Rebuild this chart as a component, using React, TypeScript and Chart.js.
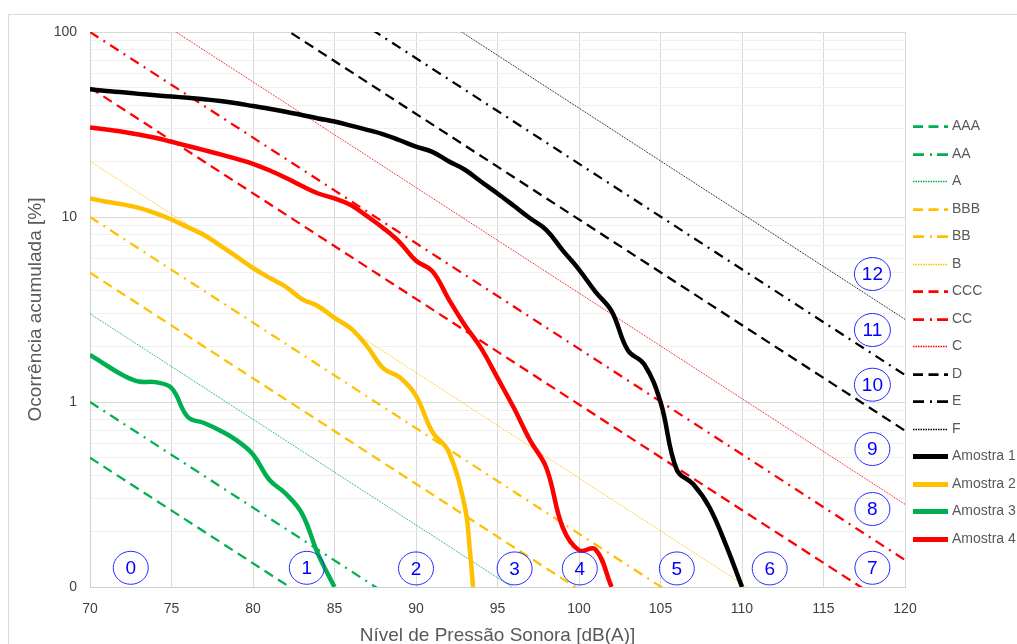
import React, { useEffect, useRef } from 'react';
import { Chart, registerables } from 'chart.js';

Chart.register(...registerables);

// ---------- data ----------
const xTickLabels = [70, 75, 80, 85, 90, 95, 100, 105, 110, 115, 120];
const yTickValues = [0.1, 1, 10, 100];
const yTickLabels = ['0', '1', '10', '100'];

// reference (class) lines: value at 70 dB and at 120 dB
const refNames = ['AAA', 'AA', 'A', 'BBB', 'BB', 'B', 'CCC', 'CC', 'C', 'D', 'E', 'F'];
const refX = [70, 120];
const refStart = [0.5, 1, 3, 5, 10, 20, 50, 100, 200, 500, 1000, 2000];
const refEnd = [0.0007, 0.0014, 0.0042, 0.007, 0.014, 0.028, 0.07, 0.14, 0.28, 0.7, 1.4, 2.8];

// samples
const amostra1X = [70, 71, 72, 73, 74, 75, 76, 77, 78, 79, 80, 81, 82, 83, 84, 85, 86, 87, 88, 89, 90, 91, 92, 93, 94, 95, 96, 97, 98, 99, 100, 101, 102, 103, 104, 105, 106, 107, 108, 109, 110];
const amostra1Y = [49, 48, 47.2, 46.3, 45.5, 44.8, 44.1, 43.3, 42.4, 41.2, 39.8, 38.5, 37.1, 35.6, 34.1, 32.8, 31.2, 29.6, 28, 26, 24, 22.5, 20, 18, 15.5, 13.4, 11.5, 9.84, 8.5, 6.6, 5.2, 3.95, 3.1, 1.9, 1.6, 1.0, 0.43, 0.36, 0.27, 0.17, 0.1];

const amostra2X = [70, 71, 72, 73, 74, 75, 76, 77, 78, 79, 80, 81, 82, 83, 84, 85, 86, 87, 88, 89, 90, 91, 92, 93, 93.3, 93.5];
const amostra2Y = [12.6, 12.1, 11.7, 11.2, 10.5, 9.7, 8.8, 8.0, 7.0, 6.1, 5.3, 4.7, 4.2, 3.6, 3.3, 2.85, 2.5, 2.0, 1.52, 1.36, 1.08, 0.69, 0.54, 0.27, 0.16, 0.1];

const amostra3X = [70, 71, 72, 73, 74, 75, 76, 77, 78, 79, 80, 81, 82, 83, 84, 85];
const amostra3Y = [1.8, 1.58, 1.4, 1.29, 1.28, 1.19, 0.83, 0.77, 0.7, 0.62, 0.52, 0.38, 0.32, 0.25, 0.15, 0.1];

const amostra4X = [70, 71, 72, 73, 74, 75, 76, 77, 78, 79, 80, 81, 82, 83, 84, 85, 86, 87, 88, 89, 90, 91, 92, 93, 94, 95, 96, 97, 98, 99, 100, 101, 102];
const amostra4Y = [30.5, 29.7, 28.9, 27.9, 26.8, 25.5, 24.2, 23, 21.8, 20.6, 19.4, 17.9, 16.3, 14.7, 13.4, 12.6, 11.6, 10.1, 8.7, 7.3, 5.8, 5.1, 3.6, 2.6, 1.95, 1.35, 0.93, 0.62, 0.44, 0.21, 0.158, 0.16, 0.1];

const sampleNames = ['Amostra 1', 'Amostra 2', 'Amostra 3', 'Amostra 4'];

// zone labels (circled numbers)
const zoneLabels = ['0', '1', '2', '3', '4', '5', '6', '7', '8', '9', '10', '11', '12'];
const zoneX = [72.5, 83.3, 90, 96.05, 100.05, 106, 111.7, 118, 118, 118, 118, 118, 118];
const zoneY = [0.127, 0.127, 0.126, 0.126, 0.126, 0.126, 0.126, 0.127, 0.264, 0.557, 1.24, 2.45, 4.92];

// ---------- styles ----------
const FONT = '"Liberation Sans", Arial, sans-serif';
const refColors = ['#00B050', '#00B050', '#00B050', '#FFC000', '#FFC000', '#FFC000', '#FF0000', '#FF0000', '#FF0000', '#000000', '#000000', '#000000'];
const refKinds = ['dash', 'dashdot', 'dot', 'dash', 'dashdot', 'dot', 'dash', 'dashdot', 'dot', 'dash', 'dashdot', 'dot'];
const dashOf: Record<string, number[]> = { dash: [10, 6], dashdot: [10, 6, 2, 6], dot: [1, 1] };
const widthOf: Record<string, number> = { dash: 2.25, dashdot: 2.25, dot: 1 };
const sampleColors = ['#000000', '#FFC000', '#00B050', '#FF0000'];

function isDecade(v: number) {
  const l = Math.log10(v);
  return Math.abs(l - Math.round(l)) < 1e-6;
}

const overlayPlugin = {
  id: 'overlay',
  afterDatasetsDraw(chart: any) {
    const { ctx, scales, chartArea } = chart;
    const xs = scales.x;
    const ys = scales.y;
    ctx.save();
    // circled zone numbers
    zoneLabels.forEach((t, i) => {
      const px = xs.getPixelForValue(zoneX[i]);
      const py = ys.getPixelForValue(zoneY[i]);
      ctx.beginPath();
      ctx.setLineDash([]);
      ctx.lineWidth = 1;
      ctx.strokeStyle = '#2a2aff';
      ctx.ellipse(px, py, t.length > 1 ? 18 : 17.5, 16.5, 0, 0, Math.PI * 2);
      ctx.stroke();
      ctx.fillStyle = '#0000FF';
      ctx.font = '19px ' + FONT;
      ctx.textAlign = 'center';
      ctx.textBaseline = 'middle';
      ctx.fillText(t, px, py + 1);
    });
    ctx.restore();

    // legend
    ctx.save();
    const lx = chartArea.right + 8;
    const ly0 = chartArea.top + 94;
    chart.data.datasets.forEach((ds: any, i: number) => {
      const yy = Math.round(ly0 + i * 27.53) + 0.5;
      ctx.beginPath();
      ctx.setLineDash(ds.legendDash || []);
      ctx.lineWidth = ds.legendWidth;
      ctx.strokeStyle = ds.borderColor;
      ctx.moveTo(lx, yy);
      ctx.lineTo(lx + 35, yy);
      ctx.stroke();
      ctx.setLineDash([]);
      ctx.fillStyle = '#595959';
      ctx.font = '14px ' + FONT;
      ctx.textAlign = 'left';
      ctx.textBaseline = 'middle';
      ctx.fillText(ds.label, lx + 39, yy);
    });
    ctx.restore();
  },
};

export default function App() {
  const ref = useRef<HTMLCanvasElement | null>(null);

  useEffect(() => {
    if (!ref.current) return;
    const datasets: any[] = [];
    refNames.forEach((name, i) => {
      const k = refKinds[i];
      datasets.push({
        label: name,
        data: [
          { x: refX[0], y: refStart[i] },
          { x: refX[1], y: refEnd[i] },
        ],
        borderColor: refColors[i],
        backgroundColor: refColors[i],
        borderWidth: widthOf[k],
        borderDash: dashOf[k],
        legendDash: k === 'dash' ? [10, 5.5] : k === 'dashdot' ? [11, 6, 2, 5] : [1.5, 1],
        legendWidth: widthOf[k] + 0.5,
        pointRadius: 0,
        tension: 0,
        order: 2,
      });
    });
    const sx = [amostra1X, amostra2X, amostra3X, amostra4X];
    const sy = [amostra1Y, amostra2Y, amostra3Y, amostra4Y];
    sampleNames.forEach((name, i) => {
      datasets.push({
        label: name,
        data: sx[i].map((x, j) => ({ x, y: sy[i][j] })),
        borderColor: sampleColors[i],
        backgroundColor: sampleColors[i],
        borderWidth: 4.5,
        legendWidth: 5,
        pointRadius: 0,
        tension: 0.4,
        order: 1,
      });
    });

    const gridValues: number[] = [];
    for (let e = -1; e < 2; e++) {
      for (let s = 1; s < 10; s++) gridValues.push(Number((s * Math.pow(10, e)).toPrecision(6)));
    }
    gridValues.push(100);

    const chart = new Chart(ref.current, {
      type: 'line',
      data: { datasets },
      plugins: [overlayPlugin],
      options: {
        animation: false,
        responsive: true,
        maintainAspectRatio: false,
        devicePixelRatio: 1,
        layout: { padding: { left: 0, top: 17, right: 112, bottom: 0 } },
        plugins: {
          legend: { display: false },
          tooltip: { enabled: false },
        },
        scales: {
          x: {
            type: 'linear',
            min: xTickLabels[0],
            max: xTickLabels[xTickLabels.length - 1],
            afterBuildTicks: (s: any) => {
              s.ticks = xTickLabels.map((v) => ({ value: v }));
            },
            ticks: {
              color: '#404040',
              font: { family: FONT, size: 14 },
              padding: 14,
              maxRotation: 0,
              autoSkip: false,
            },
            grid: { color: '#d9d9d9', drawTicks: false },
            border: { color: '#cfcfcf' },
            title: {
              display: true,
              text: 'Nível de Pressão Sonora [dB(A)]',
              color: '#595959',
              font: { family: FONT, size: 19, lineHeight: 1 },
              padding: { top: 0, bottom: -1 },
            },
            afterFit: (s: any) => {
              s.height = 57;
            },
          },
          y: {
            type: 'logarithmic',
            min: yTickValues[0],
            max: yTickValues[yTickValues.length - 1],
            afterBuildTicks: (s: any) => {
              s.ticks = gridValues.map((v) => ({ value: v, major: isDecade(v) }));
            },
            ticks: {
              autoSkip: false,
              color: '#404040',
              font: { family: FONT, size: 14, lineHeight: 0.5 },
              padding: 13,
              callback: (v: any) => {
                const n = Number(v);
                const i = yTickValues.findIndex((t) => Math.abs(t - n) / t < 1e-6);
                return i >= 0 ? yTickLabels[i] : '';
              },
            },
            grid: {
              drawTicks: false,
              color: (c: any) => (c.tick && isDecade(c.tick.value) ? '#d9d9d9' : '#f0f0f0'),
            },
            border: { color: '#cfcfcf' },
            title: {
              display: true,
              text: 'Ocorrência acumulada [%]',
              color: '#595959',
              font: { family: FONT, size: 19, lineHeight: 1 },
              padding: { top: 17.5, bottom: 0 },
            },
            afterFit: (s: any) => {
              s.width = 81;
            },
          },
        },
      } as any,
    });
    return () => chart.destroy();
  }, []);

  return (
    <div
      style={{
        position: 'fixed',
        left: 8,
        top: 14,
        width: 1009,
        height: 630,
        boxSizing: 'border-box',
        borderLeft: '1px solid #d9d9d9',
        borderTop: '1px solid #d9d9d9',
        background: '#fff',
      }}
    >
      <div style={{ position: 'absolute', left: 0, top: 0, width: 1008, height: 629 }}>
        <canvas ref={ref} />
      </div>
    </div>
  );
}
